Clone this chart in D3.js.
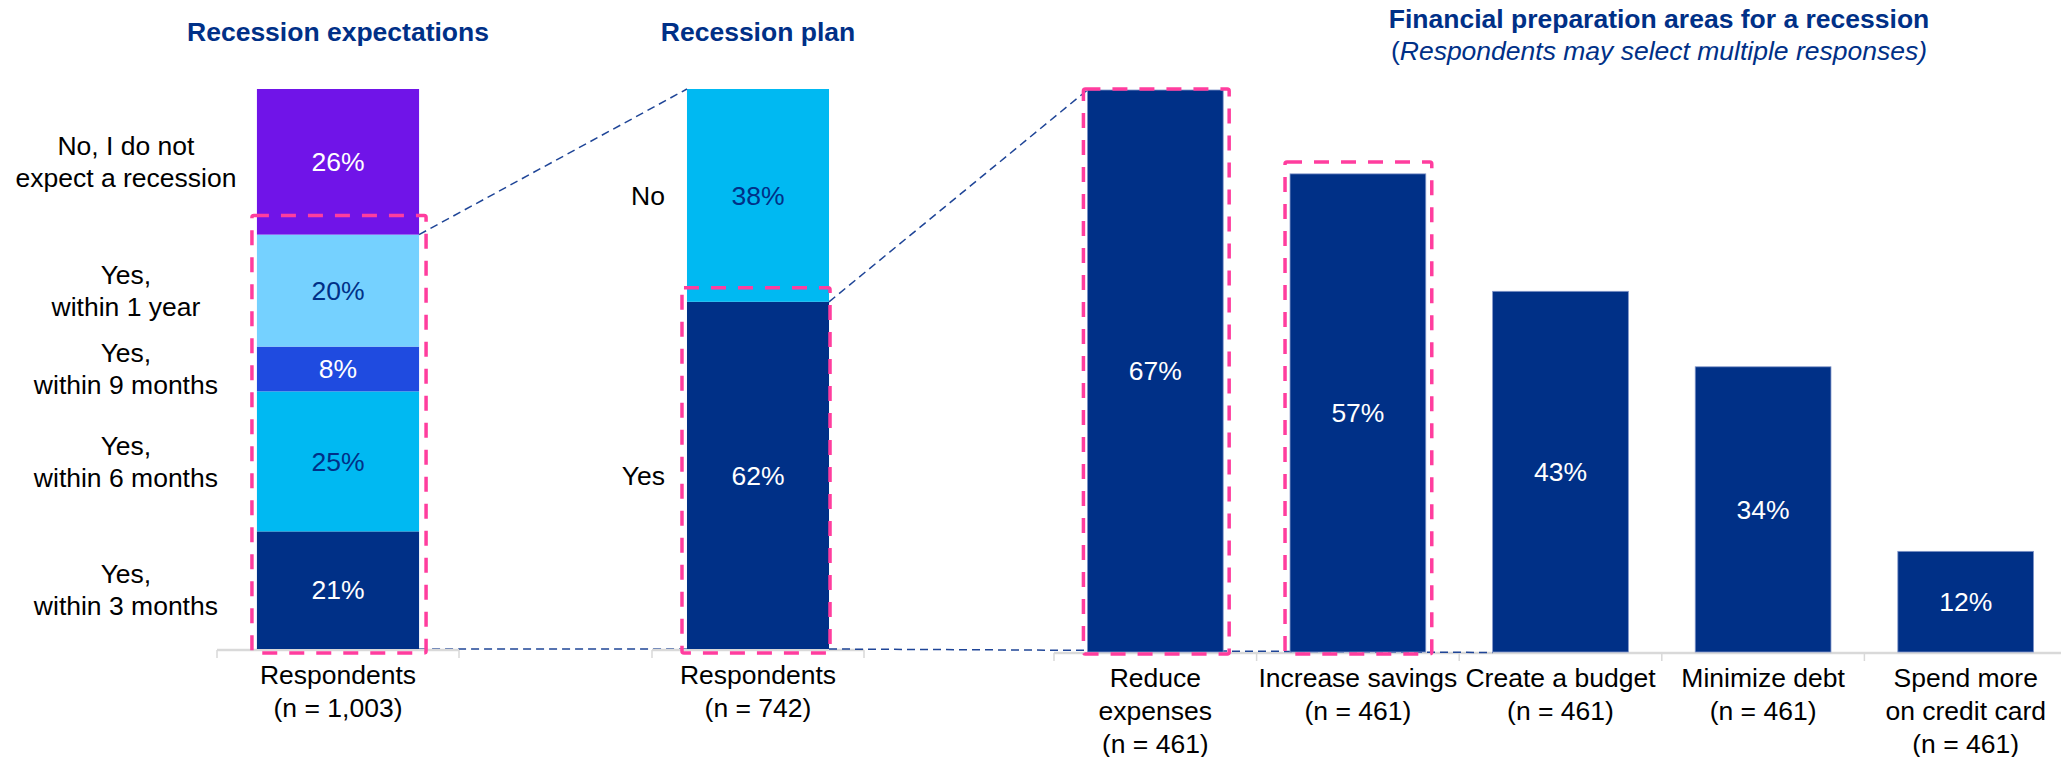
<!DOCTYPE html>
<html>
<head>
<meta charset="utf-8">
<script src="https://cdn.jsdelivr.net/npm/d3@7"></script>
<style>
  html, body { margin: 0; padding: 0; background: #ffffff; }
  svg { display: block; font-family: "Liberation Sans", Arial, Helvetica, sans-serif; }
</style>
</head>
<body>
<svg id="chart" width="2061" height="757"></svg>
<script>
// ---- Data -------------------------------------------------------------
// Recession expectations: stacked shares, listed bottom to top
const expectCategories = ["Respondents\n(n = 1,003)"];
const expectSeries = [
  "Yes,\nwithin 3 months",
  "Yes,\nwithin 6 months",
  "Yes,\nwithin 9 months",
  "Yes,\nwithin 1 year",
  "No, I do not\nexpect a recession"
];
const expectValues = [21, 25, 8, 20, 26];

// Recession plan (asked of those expecting a recession), bottom to top
const planCategories = ["Respondents\n(n = 742)"];
const planSeries = ["Yes", "No"];
const planValues = [62, 38];

// Financial preparation areas (multiple responses allowed)
const prepCategories = [
  "Reduce\nexpenses\n(n = 461)",
  "Increase savings\n(n = 461)",
  "Create a budget\n(n = 461)",
  "Minimize debt\n(n = 461)",
  "Spend more\non credit card\n(n = 461)"
];
const prepValues = [67, 57, 43, 34, 12];

const panelTitles = ["Recession expectations", "Recession plan", "Financial preparation areas for a recession"];
const panelSubtitle = "Respondents may select multiple responses";

// ---- Styling ----------------------------------------------------------
const W = 2061, H = 757;
const FONT = 26.5;
const NAVY = "#003087";
const PINK = "#ff3d9e";
const LINK = "#1f4597";
const AXIS = "#d9d9d9";
const expectColors = ["#003087", "#00b9f2", "#1f4be0", "#75d1ff", "#7014e8"];
const expectLabelColors = ["#ffffff", NAVY, "#ffffff", NAVY, "#ffffff"];
const planColors = ["#003087", "#00b9f2"];
const planLabelColors = ["#ffffff", NAVY];

const svg = d3.select("#chart");

// ---- Scales -----------------------------------------------------------
const base12 = 649, base3 = 652;
const y12 = d3.scaleLinear().domain([0, 100]).range([base12, 89]);
const y3 = d3.scaleLinear().domain([0, d3.max(prepValues)]).range([base3, 90]);

function bandScale(domain, range) {
  return d3.scaleBand().domain(domain).range(range).paddingInner(0.33).paddingOuter(0.165);
}
const x1 = bandScale(expectCategories, [217, 459]);
const x2 = bandScale(planCategories, [652, 864]);
const x3 = bandScale(prepCategories, [1054, 2067]);

function stackOf(values) {
  let acc = 0;
  return values.map((v, i) => { const s = { i, v, y0: acc, y1: acc + v }; acc += v; return s; });
}
const expectStack = stackOf(expectValues);
const planStack = stackOf(planValues);

// multi-line text helper (lines split on \n)
function multiText(g, str, x, y, lineH, anchor, opts = {}) {
  const t = g.append("text")
    .attr("x", x).attr("y", y)
    .attr("text-anchor", anchor)
    .attr("font-size", FONT)
    .attr("fill", opts.fill || "#000");
  const lines = str.split("\n");
  const start = opts.center ? -(lines.length - 1) / 2 * lineH : 0;
  lines.forEach((ln, k) => {
    t.append("tspan").attr("x", x).attr("y", y + start + k * lineH).text(ln);
  });
  return t;
}

function dashedLink(p0, p1) {
  svg.append("line")
    .attr("x1", p0[0]).attr("y1", p0[1])
    .attr("x2", p1[0]).attr("y2", p1[1])
    .attr("stroke", LINK).attr("stroke-width", 1.5)
    .attr("stroke-dasharray", "8,5");
}

function drawAxis(x, yLine) {
  const g = svg.append("g");
  const [r0, r1] = x.range();
  g.append("line")
    .attr("x1", r0).attr("x2", Math.min(r1, W))
    .attr("y1", yLine).attr("y2", yLine)
    .attr("stroke", AXIS).attr("stroke-width", 2.5);
  d3.range(x.domain().length + 1).forEach(i => {
    const tx = r0 + i * x.step();
    g.append("line")
      .attr("x1", tx).attr("x2", tx)
      .attr("y1", yLine).attr("y2", yLine + 8)
      .attr("stroke", AXIS).attr("stroke-width", 1.5);
  });
  x.domain().forEach(d => {
    multiText(g, d, x(d) + x.bandwidth() / 2, yLine + 34, 33, "middle");
  });
}

// ---- Connectors drawn beneath the axes ----------------------------------
const c1 = expectCategories[0], c2 = planCategories[0];
dashedLink([x1(c1) + x1.bandwidth(), y12(0)], [x2(c2), y12(0)]);

drawAxis(x1, base12 + 1);
drawAxis(x2, base12 + 1);
drawAxis(x3, base3 + 1);

// bottom link from the plan bar into the preparation panel
dashedLink([x2(c2) + x2.bandwidth(), y12(0)], [x3(prepCategories[2]), y3(0) + 0.5]);

// ---- Panel 1: recession expectations ------------------------------------
const p1 = svg.append("g");
p1.selectAll("rect").data(expectStack).join("rect")
  .attr("x", x1(c1)).attr("width", x1.bandwidth())
  .attr("y", d => y12(d.y1)).attr("height", d => y12(d.y0) - y12(d.y1))
  .attr("fill", d => expectColors[d.i]);
expectStack.forEach(d => {
  const mid = (y12(d.y0) + y12(d.y1)) / 2;
  p1.append("text")
    .attr("x", x1(c1) + x1.bandwidth() / 2).attr("y", mid).attr("dy", "0.35em")
    .attr("text-anchor", "middle").attr("font-size", FONT)
    .attr("fill", expectLabelColors[d.i]).text(d.v + "%");
  multiText(p1, expectSeries[d.i], x1(c1) - 131, mid + 0.35 * FONT, 32, "middle", { center: true });
});

// ---- Panel 2: recession plan --------------------------------------------
const p2 = svg.append("g");
p2.selectAll("rect").data(planStack).join("rect")
  .attr("x", x2(c2)).attr("width", x2.bandwidth())
  .attr("y", d => y12(d.y1)).attr("height", d => y12(d.y0) - y12(d.y1))
  .attr("fill", d => planColors[d.i]);
planStack.forEach(d => {
  const mid = (y12(d.y0) + y12(d.y1)) / 2;
  p2.append("text")
    .attr("x", x2(c2) + x2.bandwidth() / 2).attr("y", mid).attr("dy", "0.35em")
    .attr("text-anchor", "middle").attr("font-size", FONT)
    .attr("fill", planLabelColors[d.i]).text(d.v + "%");
  p2.append("text")
    .attr("x", x2(c2) - 22).attr("y", mid).attr("dy", "0.35em")
    .attr("text-anchor", "end").attr("font-size", FONT)
    .attr("fill", "#000").text(planSeries[d.i]);
});

// ---- Panel 3: preparation areas -----------------------------------------
const p3 = svg.append("g");
p3.selectAll("rect").data(prepValues).join("rect")
  .attr("x", (d, i) => x3(prepCategories[i])).attr("width", x3.bandwidth())
  .attr("y", d => y3(d)).attr("height", d => y3(0) - y3(d))
  .attr("fill", NAVY).attr("stroke", "#8195c9").attr("stroke-width", 0.8);
p3.selectAll("text.val").data(prepValues).join("text")
  .attr("class", "val")
  .attr("x", (d, i) => x3(prepCategories[i]) + x3.bandwidth() / 2)
  .attr("y", d => (y3(0) + y3(d)) / 2).attr("dy", "0.35em")
  .attr("text-anchor", "middle").attr("font-size", FONT)
  .attr("fill", "#ffffff").text(d => d + "%");

// ---- Zoom connectors between panels ---------------------------------------
const yesShare = d3.sum(expectValues.slice(0, 4));
dashedLink([x1(c1) + x1.bandwidth(), y12(yesShare)], [x2(c2), y12(100)]);
dashedLink([x2(c2) + x2.bandwidth(), y12(planValues[0])], [x3(prepCategories[0]), y3(prepValues[0])]);

// ---- Highlight boxes -------------------------------------------------------
const boxes = [
  { left: x1(c1) - 5, right: x1(c1) + x1.bandwidth() + 7, top: y12(yesShare) - 19, bottom: base12 + 4 },
  { left: x2(c2) - 5, right: x2(c2) + x2.bandwidth() + 1, top: y12(planValues[0]) - 14, bottom: base12 + 4 },
  { left: x3(prepCategories[0]) - 4, right: x3(prepCategories[0]) + x3.bandwidth() + 6, top: y3(prepValues[0]) - 1, bottom: base3 + 2 },
  { left: x3(prepCategories[1]) - 5, right: x3(prepCategories[1]) + x3.bandwidth() + 6, top: y3(prepValues[1]) - 12, bottom: base3 + 2 }
];
svg.append("g").selectAll("rect").data(boxes).join("rect")
  .attr("x", d => d.left).attr("y", d => d.top)
  .attr("width", d => d.right - d.left).attr("height", d => d.bottom - d.top)
  .attr("rx", 2)
  .attr("fill", "none").attr("stroke", PINK).attr("stroke-width", 3.5)
  .attr("stroke-dasharray", "15,12");

// ---- Titles ------------------------------------------------------------------
const tg = svg.append("g").attr("fill", NAVY).attr("font-size", FONT).attr("text-anchor", "middle");
tg.append("text").attr("x", x1(c1) + x1.bandwidth() / 2).attr("y", 41).attr("font-weight", "bold").text(panelTitles[0]);
tg.append("text").attr("x", x2(c2) + x2.bandwidth() / 2).attr("y", 41).attr("font-weight", "bold").text(panelTitles[1]);
tg.append("text").attr("x", 1659).attr("y", 28).attr("font-weight", "bold").text(panelTitles[2]);
const sub = tg.append("text").attr("x", 1659).attr("y", 60);
sub.append("tspan").text("(");
sub.append("tspan").attr("font-style", "italic").text(panelSubtitle + ")");
</script>
</body>
</html>
